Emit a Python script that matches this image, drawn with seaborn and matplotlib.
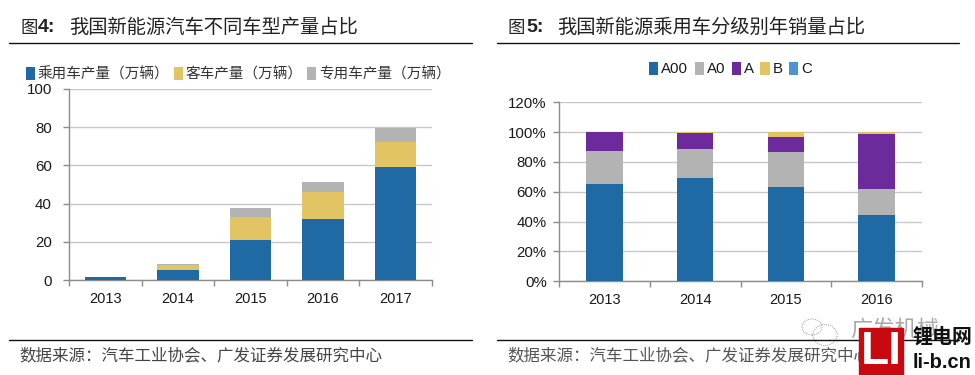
import matplotlib
matplotlib.use("Agg")
import matplotlib.pyplot as plt
from matplotlib.lines import Line2D
from matplotlib.patches import Rectangle, Ellipse
import seaborn as sns
import numpy as np

# Données
years_left = ["2013", "2014", "2015", "2016", "2017"]
passenger = [1.5, 5, 21, 32, 59]
bus = [0.2, 3, 12, 14, 13.5]
special = [0.1, 0.4, 4.5, 5.5, 7]

years_right = ["2013", "2014", "2015", "2016"]
share_a00 = [65, 69, 63, 44.5]
share_a0 = [22.5, 20, 24, 17.5]
share_a = [12.5, 10.7, 10, 37]
share_b = [0, 0.3, 3, 1]
share_c = [0, 0, 0, 0]

names_left = ["乘用车产量（万辆）", "客车产量（万辆）", "专用车产量（万辆）"]
names_right = ["A00", "A0", "A", "B", "C"]

BLUE = "#1f69a4"
YELLOW = "#e3c464"
GREY = "#b3b3b3"
PURPLE = "#6d2a9c"
LIGHT_BLUE = "#4f94cd"

W, H = 975, 375

sns.set_theme(style="white")
plt.rcParams["font.family"] = ["Liberation Sans", "Noto Sans CJK SC"]

fig = plt.figure(figsize=(W / 100, H / 100), dpi=100)


def px_axes(x0, x1, y_top, y_bottom):
    return fig.add_axes([x0 / W, 1 - y_bottom / H, (x1 - x0) / W, (y_bottom - y_top) / H])


def stacked(ax, cats, series, names, colors, width):
    bottom = np.zeros(len(cats))
    for vals, name, col in zip(series, names, colors):
        sns.barplot(x=cats, y=vals, bottom=bottom, color=col, saturation=1, linewidth=0,
                    width=width, label=name, legend=False, ax=ax, zorder=3)
        bottom = bottom + np.array(vals)


def style_axes(ax, n, y_pad):
    ax.set_xlim(-0.5, n - 0.5)
    ax.set_xlabel("")
    ax.set_ylabel("")
    for side in ["top", "right"]:
        ax.spines[side].set_visible(False)
    for side in ["left", "bottom"]:
        ax.spines[side].set_color("#8c8c8c")
        ax.spines[side].set_linewidth(1)
    ax.grid(axis="y", color="#c8c8c8", linewidth=1, zorder=0)
    ax.set_axisbelow(True)
    ax.set_xticks(np.arange(-0.5, n), minor=True)
    ax.tick_params(axis="x", which="major", length=0, pad=8.5, labelsize=10.5, labelcolor="#1a1a1a")
    ax.tick_params(axis="x", which="minor", length=4, width=1, color="#8c8c8c", bottom=True)
    ax.tick_params(axis="y", length=4, width=1, color="#8c8c8c", left=True, pad=y_pad,
                   labelsize=10.8, labelcolor="#1a1a1a")


# Graphique de gauche
ax1 = px_axes(69.3, 431.7, 89, 280)
stacked(ax1, years_left, [passenger, bus, special], names_left, [BLUE, YELLOW, GREY], 0.57)
ax1.set_ylim(0, 100)
ax1.set_yticks([0, 20, 40, 60, 80, 100])
style_axes(ax1, len(years_left), 8.5)
ax1.legend(loc="center left", bbox_to_anchor=(26 / W, 1 - 74 / H), bbox_transform=fig.transFigure,
           ncol=3, frameon=False, fontsize=10.5, handlelength=0.62, handleheight=1.0,
           handletextpad=0.2, columnspacing=0.3, borderpad=0, borderaxespad=0,
           labelcolor="#333333")

# Graphique de droite
ax2 = px_axes(559.3, 921.7, 102.3, 281.3)
stacked(ax2, years_right, [share_a00, share_a0, share_a, share_b, share_c], names_right,
        [BLUE, GREY, PURPLE, YELLOW, LIGHT_BLUE], 0.4)
ax2.set_ylim(0, 120)
ax2.set_yticks([0, 20, 40, 60, 80, 100, 120])
ax2.set_yticklabels([f"{v}%" for v in [0, 20, 40, 60, 80, 100, 120]])
style_axes(ax2, len(years_right), 5)
ax2.legend(loc="center", bbox_to_anchor=(730.5 / W, 1 - 69 / H), bbox_transform=fig.transFigure,
           ncol=5, frameon=False, fontsize=10.8, handlelength=0.62, handleheight=1.0,
           handletextpad=0.2, columnspacing=0.42, borderpad=0, borderaxespad=0,
           labelcolor="#1a1a1a")


def px_text(x, y, s, **kw):
    return fig.text(x / W, 1 - y / H, s, va="center", **kw)


def px_rule(x0, x1, y):
    fig.add_artist(Line2D([x0 / W, x1 / W], [1 - y / H, 1 - y / H], color="#111111", linewidth=1))


# Titres, filets et sources
px_text(21, 28, "图", fontsize=12.5, color="#222222")
px_text(38, 28, "4:", fontsize=14, fontweight="bold", color="#222222")
px_text(69, 28, "我国新能源汽车不同车型产量占比", fontsize=13.9, color="#222222")
px_text(508, 28, "图", fontsize=12.5, color="#222222")
px_text(526, 28, "5:", fontsize=14, fontweight="bold", color="#222222")
px_text(557, 28, "我国新能源乘用车分级别年销量占比", fontsize=13.9, color="#222222")

px_rule(9, 472, 42.5)
px_rule(497, 959, 42.5)
px_rule(9, 472, 339.5)
px_rule(497, 959, 339.5)

source = "数据来源：汽车工业协会、广发证券发展研究中心"
px_text(19, 355, source, fontsize=11.9, color="#444444")
px_text(507, 355, source, fontsize=11.9, color="#555555")

# Filigrane en bas à droite
for cx, cy, w, h in [(812, 327, 20, 16), (825, 335, 24, 21)]:
    fig.add_artist(Ellipse((cx / W, 1 - cy / H), w / W, h / H, fill=False, edgecolor="#aaaaaa",
                           linewidth=0.8, linestyle=(0, (1, 1)), transform=fig.transFigure))
px_text(850, 331, "广发机械", fontsize=16, color="#aaaaaa")
fig.add_artist(Rectangle((859 / W, 0), 44 / W, (H - 328) / H, color="#c9090f",
                         transform=fig.transFigure, zorder=5))
fig.text(881 / W, 1 - 352 / H, "LI", fontsize=33, fontweight="bold", color="white",
         ha="center", va="center", zorder=6)
fig.text(913 / W, 1 - 337 / H, "锂电网", fontsize=14.4, fontweight="bold", color="#111111",
         va="center", zorder=6)
fig.text(913 / W, 1 - 363 / H, "li-b.cn", fontsize=14.4, fontweight="bold", color="#111111",
         va="center", zorder=6)

fig.savefig("out.png", dpi=100)
